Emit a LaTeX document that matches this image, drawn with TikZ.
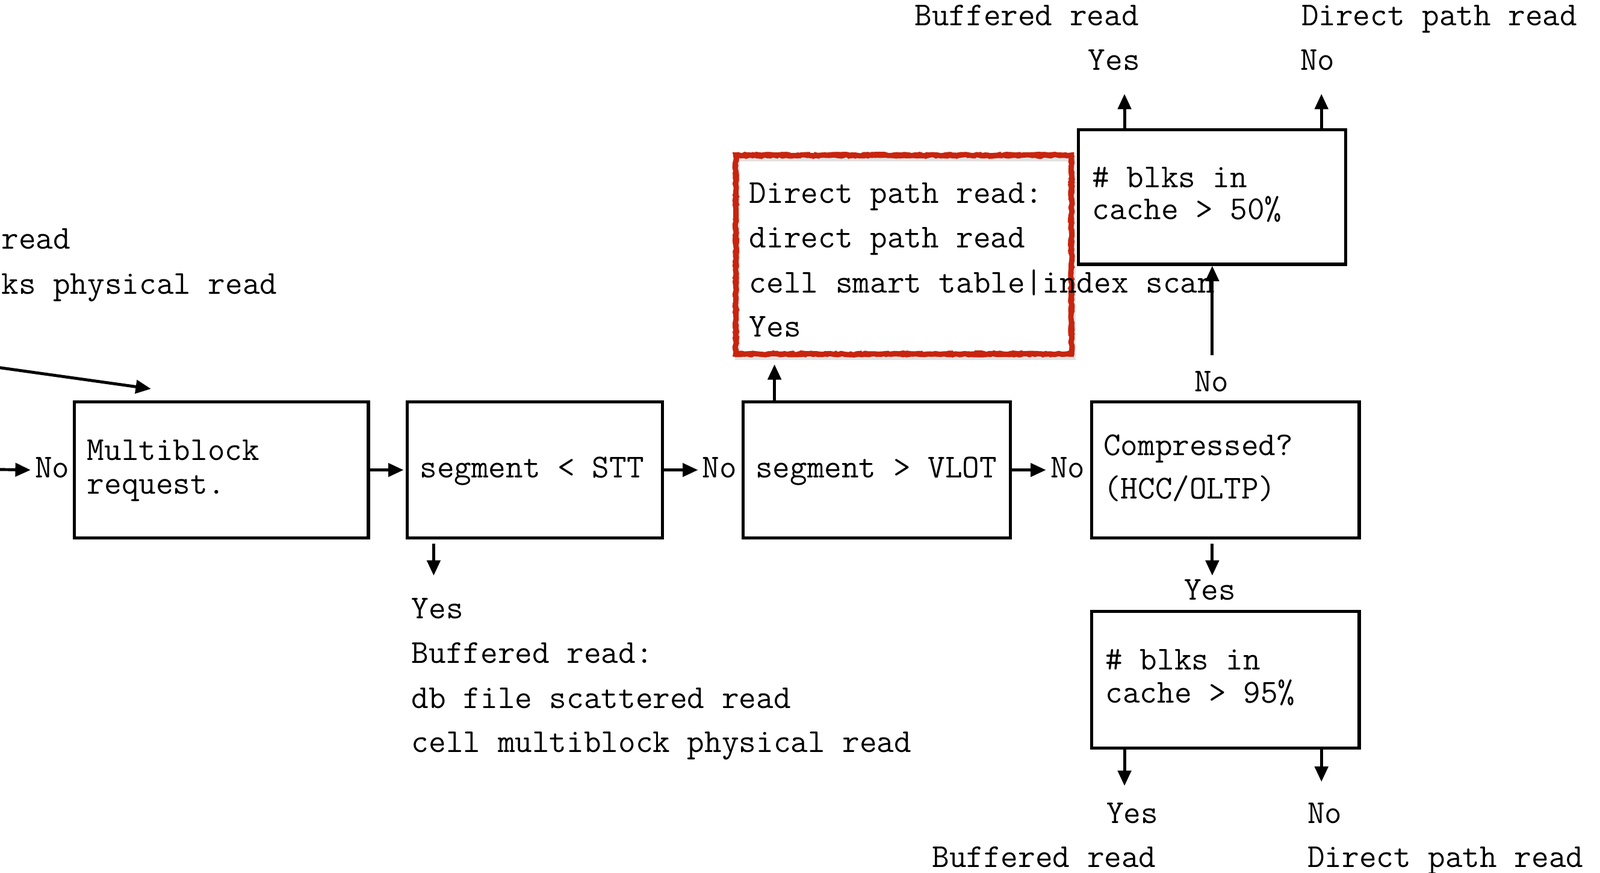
\documentclass[tikz,border=0pt]{standalone}
\usetikzlibrary{arrows.meta,calc,decorations.pathmorphing}
\definecolor{sketchred}{RGB}{200,36,14}
\begin{document}
\begin{tikzpicture}[x=0.5pt,y=-0.5pt,
  box/.style={draw,line width=1.5pt,inner sep=0pt},
  redbox/.style={draw=sketchred,line width=2.6pt,inner sep=0pt,
     decorate,decoration={random steps,segment length=2pt,amplitude=0.35pt}},
  txt/.style={anchor=base west,inner sep=0pt,font=\ttfamily\fontsize{16.4}{18}\selectfont},
  arr/.style={line width=1.45pt,-{Triangle[length=7.5pt,width=6.5pt]}}]
\useasboundingbox (0,0) rectangle (1568,855);
\begin{scope}
\clip (0,0) rectangle (1568,855);

% ---- boxes ----
\node[box,minimum width=144pt,minimum height=66.5pt] (mb)   at (217,460.5) {};
\node[box,minimum width=125pt,minimum height=66.5pt] (stt)  at (524,460.5) {};
\node[box,minimum width=131pt,minimum height=66.5pt] (vlot) at (859,460.5) {};
\node[box,minimum width=131pt,minimum height=66.5pt] (comp) at (1201,460.5) {};
\node[box,minimum width=131pt,minimum height=66pt]   (b50)  at (1188,193) {};
\node[box,minimum width=131pt,minimum height=67pt]   (b95)  at (1201,666) {};
% shadow + sketchy red box
\node[draw=black!25,line width=2.5pt,opacity=0.45,minimum width=164.5pt,minimum height=97.5pt,inner sep=0pt] (redsh) at (887,253) {};
\node[redbox,minimum width=164.5pt,minimum height=97.5pt] (red) at (885.5,249.5) {};
\node[draw=sketchred,line width=1pt,inner sep=0pt,minimum width=163pt,minimum height=96pt,
      decorate,decoration={random steps,segment length=1.5pt,amplitude=0.6pt}] (red2) at (885.5,249.5) {};
\node[draw=sketchred,line width=0.8pt,inner sep=0pt,minimum width=166pt,minimum height=99pt,
      decorate,decoration={random steps,segment length=1.2pt,amplitude=0.5pt}] (red3) at (885.5,249.5) {};

% ---- texts in boxes ----
\node[txt] (tmb1) at (85,451) {Multiblock};
\node[txt] (tmb2) at (85,484) {request.};
\node[txt] (tstt) at (411,468) {segment < STT};
\node[txt] (tvlot) at (740,468) {segment > VLOT};
\node[txt] (tc1) at (1081,446) {Compressed?};
\node[txt] (tc2) at (1081,489) {(HCC/OLTP)};
\node[txt] (t501) at (1070,184) {\# blks in};
\node[txt] (t502) at (1070,215) {cache > 50\%};
\node[txt] (t951) at (1083,656) {\# blks in};
\node[txt] (t952) at (1083,689) {cache > 95\%};
\node[txt] (tr1) at (734,199) {Direct path read:};
\node[txt] (tr2) at (734,243) {direct path read};
\node[txt] (tr3) at (734,287) {cell smart table|index scan};
\node[txt] (tr4) at (734,330) {Yes};

% ---- free labels ----
\node[txt] (lread) at (1,244) {read};
\node[txt] (lphys) at (1,288) {ks physical read};
\node[txt] (noL) at (34,468) {No};
\node[txt] (noA) at (688,468) {No};
\node[txt] (noB) at (1029,468) {No};
\node[txt] (noC) at (1170,384) {No};
\node[txt] (yesC) at (1160,588) {Yes};
\node[txt] (ys1) at (403,606) {Yes};
\node[txt] (ys2) at (403,650) {Buffered read:};
\node[txt] (ys3) at (403,694) {db file scattered read};
\node[txt] (ys4) at (403,737) {cell multiblock physical read};
\node[txt] (topBuf) at (896,25) {Buffered read};
\node[txt] (topDir) at (1275,25) {Direct path read};
\node[txt] (topYes) at (1066,69) {Yes};
\node[txt] (topNo) at (1274,69) {No};
\node[txt] (botYes) at (1084,807) {Yes};
\node[txt] (botNo) at (1281,807) {No};
\node[txt] (botBuf) at (913,850) {Buffered read};
\node[txt] (botDir) at (1281,850) {Direct path read};

% ---- coordinates for free ends ----
\coordinate (inDiag) at (-2,360);
\coordinate (diagEnd) at (148,381);
\coordinate (inNo) at (-2,460);
\coordinate (sttDown) at (425,564);
\coordinate (vlotUp) at (759,357);
\coordinate (compDown) at (1188,564);
\coordinate (compUpStart) at (1188,348);
\coordinate (b50L) at (1102,92);
\coordinate (b50R) at (1295,92);
\coordinate (b95L) at (1102,770);
\coordinate (b95R) at (1295,766);

% ---- connectors ----
\draw[arr] (inDiag) -- (diagEnd);
\draw[arr] (inNo) -- ([xshift=-2pt]noL.west |- mb.west);
\draw[arr] (mb.east) -- ([xshift=-1pt]stt.west);
\draw[arr] (stt.east) -- ([xshift=-2pt]noA.west |- stt.east);
\draw[arr] (vlot.east) -- ([xshift=-2pt]noB.west |- vlot.east);
\draw[arr] ([yshift=-2pt]stt.south -| sttDown) -- (sttDown);
\draw[arr] (vlot.north -| vlotUp) -- (vlotUp);
\draw[arr] (compUpStart) -- (b50.south);
\draw[arr] ([yshift=-2pt]comp.south -| compDown) -- (compDown);
\draw[arr] (b50.north -| b50L) -- (b50L);
\draw[arr] (b50.north -| b50R) -- (b50R);
\draw[arr] (b95.south -| b95L) -- (b95L);
\draw[arr] ([yshift=1.5pt]b95.south -| b95R) -- (b95R);
\end{scope}
\end{tikzpicture}
\end{document}
